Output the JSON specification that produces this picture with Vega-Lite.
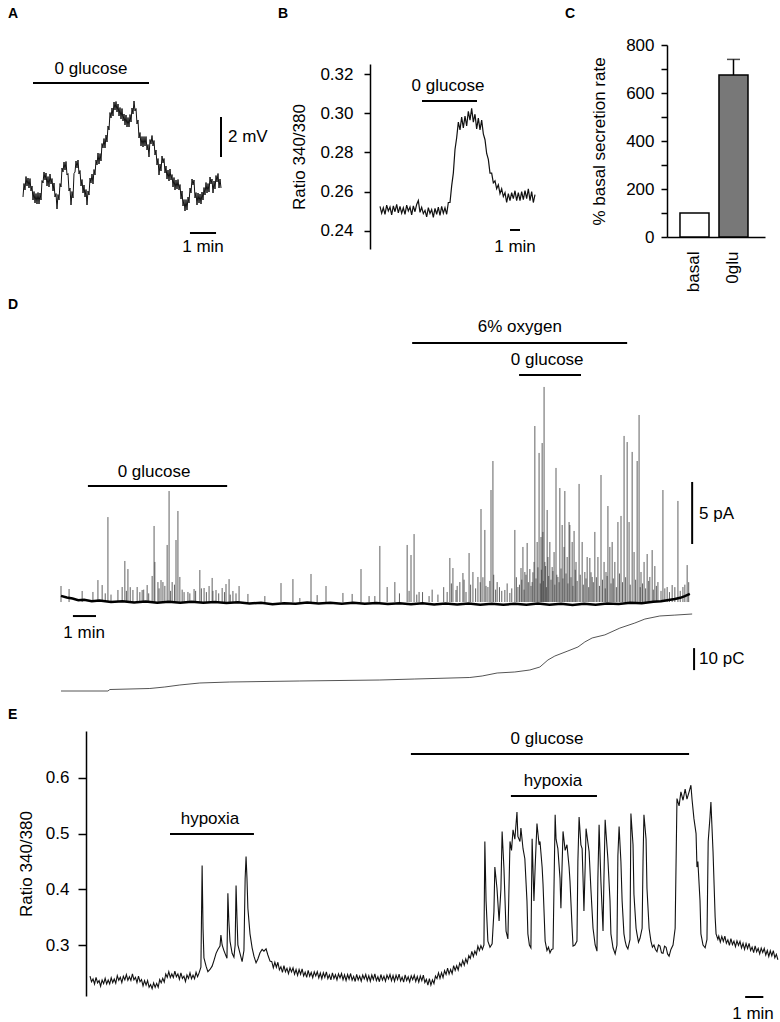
{
"$schema": "https://vega.github.io/schema/vega-lite/v6.json",
"background": "white",
"padding": {"left": 8, "top": 6, "right": 0, "bottom": 0},
"config": {
  "font": "Liberation Sans",
  "view": {"stroke": null},
  "axis": {"labelFont": "Liberation Sans", "titleFont": "Liberation Sans", "labelFontSize": 17, "titleFontSize": 17, "titleFontWeight": "normal", "labelColor": "#000", "titleColor": "#000", "domainColor": "#000", "tickColor": "#000", "domainWidth": 1.5, "tickWidth": 1.5, "grid": false, "labelFlush": false, "labelOverlap": false},
  "title": {"font": "Liberation Sans", "fontSize": 14, "fontWeight": "bold", "anchor": "start", "frame": "group", "baseline": "alphabetic", "color": "#000"},
  "text": {"font": "Liberation Sans", "fontSize": 17, "color": "#000"}
},
"datasets": {
  "aTrace": [{"t":0,"v":-59.9},{"t":2.3,"v":-59.225},{"t":4.6,"v":-59.55},{"t":6.9,"v":-58.875},{"t":9.2,"v":-59.35},{"t":11.5,"v":-58.95},{"t":13.8,"v":-59.45},{"t":16.1,"v":-58.975},{"t":18.4,"v":-59.6},{"t":20.7,"v":-59.35},{"t":23,"v":-60.05},{"t":25.3,"v":-59.625},{"t":27.6,"v":-60.2},{"t":29.9,"v":-59.725},{"t":32.2,"v":-60.25},{"t":34.5,"v":-59.675},{"t":36.8,"v":-60.25},{"t":39.1,"v":-59.7},{"t":41.4,"v":-60.05},{"t":43.7,"v":-59.075},{"t":46,"v":-59.2},{"t":48.3,"v":-58.65},{"t":50.6,"v":-59.05},{"t":52.9,"v":-58.7},{"t":55.2,"v":-59.35},{"t":57.5,"v":-58.875},{"t":59.8,"v":-59.4},{"t":62.1,"v":-58.75},{"t":64.4,"v":-59.25},{"t":66.7,"v":-58.975},{"t":69,"v":-59.6},{"t":71.3,"v":-59.2},{"t":73.6,"v":-59.9},{"t":75.9,"v":-59.725},{"t":78.2,"v":-60.5},{"t":80.5,"v":-59.775},{"t":82.8,"v":-60.05},{"t":85.1,"v":-59.225},{"t":87.4,"v":-59.4},{"t":89.7,"v":-58.45},{"t":92,"v":-58.65},{"t":94.3,"v":-58.15},{"t":96.6,"v":-58.55},{"t":98.9,"v":-58.125},{"t":101.2,"v":-58.8},{"t":103.5,"v":-58.725},{"t":105.8,"v":-59.6},{"t":108.1,"v":-59.45},{"t":110.4,"v":-60.3},{"t":112.7,"v":-59.625},{"t":115,"v":-59.95},{"t":117.3,"v":-58.725},{"t":119.6,"v":-58.65},{"t":121.9,"v":-58.1},{"t":124.2,"v":-58.45},{"t":126.5,"v":-58.05},{"t":128.8,"v":-58.75},{"t":131.1,"v":-58.575},{"t":133.4,"v":-59.35},{"t":135.7,"v":-59.025},{"t":138,"v":-59.7},{"t":140.3,"v":-59.3},{"t":142.6,"v":-59.9},{"t":144.9,"v":-59.525},{"t":147.2,"v":-60.3},{"t":149.5,"v":-59.6},{"t":151.8,"v":-59.8},{"t":154.1,"v":-58.95},{"t":156.4,"v":-59.2},{"t":158.7,"v":-58.75},{"t":161,"v":-59.25},{"t":163.3,"v":-58.525},{"t":165.6,"v":-58.8},{"t":167.9,"v":-58.05},{"t":170.2,"v":-58.3},{"t":172.5,"v":-57.7},{"t":174.8,"v":-58.25},{"t":177.1,"v":-57.725},{"t":179.4,"v":-58.1},{"t":181.7,"v":-57.225},{"t":184,"v":-57.45},{"t":186.3,"v":-56.975},{"t":188.6,"v":-57.45},{"t":190.9,"v":-56.8},{"t":193.2,"v":-57.15},{"t":195.5,"v":-56.35},{"t":197.8,"v":-56.55},{"t":200.1,"v":-55.675},{"t":202.4,"v":-55.95},{"t":204.7,"v":-55.45},{"t":207,"v":-55.85},{"t":209.3,"v":-55.15},{"t":211.6,"v":-55.55},{"t":213.9,"v":-55.125},{"t":216.2,"v":-55.65},{"t":218.5,"v":-55.25},{"t":220.8,"v":-55.85},{"t":223.1,"v":-55.425},{"t":225.4,"v":-56.0},{"t":227.7,"v":-55.475},{"t":230,"v":-56.1},{"t":232.3,"v":-55.75},{"t":234.6,"v":-56.3},{"t":236.9,"v":-55.8},{"t":239.2,"v":-56.4},{"t":241.5,"v":-55.925},{"t":243.8,"v":-56.4},{"t":246.1,"v":-55.775},{"t":248.4,"v":-56.15},{"t":250.7,"v":-55.45},{"t":253,"v":-55.75},{"t":255.3,"v":-55.1},{"t":257.6,"v":-55.6},{"t":259.9,"v":-55.475},{"t":262.2,"v":-56.25},{"t":264.5,"v":-56.05},{"t":266.8,"v":-56.95},{"t":269.1,"v":-56.675},{"t":271.4,"v":-57.35},{"t":273.7,"v":-56.875},{"t":276,"v":-57.4},{"t":278.3,"v":-56.875},{"t":280.6,"v":-57.35},{"t":282.9,"v":-56.875},{"t":285.2,"v":-57.55},{"t":287.5,"v":-57.275},{"t":289.8,"v":-57.9},{"t":292.1,"v":-57.025},{"t":294.4,"v":-57.25},{"t":296.7,"v":-56.825},{"t":299,"v":-57.35},{"t":301.3,"v":-57.075},{"t":303.6,"v":-57.8},{"t":305.9,"v":-57.55},{"t":308.2,"v":-58.3},{"t":310.5,"v":-57.975},{"t":312.8,"v":-58.8},{"t":315.1,"v":-58.25},{"t":317.4,"v":-58.6},{"t":319.7,"v":-57.85},{"t":322,"v":-58.2},{"t":324.3,"v":-57.975},{"t":326.6,"v":-58.7},{"t":328.9,"v":-58.35},{"t":331.2,"v":-59.0},{"t":333.5,"v":-58.55},{"t":335.8,"v":-59.1},{"t":338.1,"v":-58.5},{"t":340.4,"v":-59.05},{"t":342.7,"v":-58.775},{"t":345,"v":-59.4},{"t":347.3,"v":-58.925},{"t":349.6,"v":-59.55},{"t":351.9,"v":-59.05},{"t":354.2,"v":-59.5},{"t":356.5,"v":-59.025},{"t":358.8,"v":-59.55},{"t":361.1,"v":-59.275},{"t":363.4,"v":-60.0},{"t":365.7,"v":-59.6},{"t":368,"v":-60.35},{"t":370.3,"v":-60.025},{"t":372.6,"v":-60.6},{"t":374.9,"v":-60.025},{"t":377.2,"v":-60.55},{"t":379.5,"v":-59.9},{"t":381.8,"v":-60.2},{"t":384.1,"v":-59.45},{"t":386.4,"v":-59.7},{"t":388.7,"v":-59.0},{"t":391,"v":-59.3},{"t":393.3,"v":-59.05},{"t":395.6,"v":-59.95},{"t":397.9,"v":-59.675},{"t":400.2,"v":-60.3},{"t":402.5,"v":-59.7},{"t":404.8,"v":-60.2},{"t":407.1,"v":-59.75},{"t":409.4,"v":-60.25},{"t":411.7,"v":-59.65},{"t":414,"v":-60.05},{"t":416.3,"v":-59.425},{"t":418.6,"v":-59.8},{"t":420.9,"v":-59.175},{"t":423.2,"v":-59.7},{"t":425.5,"v":-59.225},{"t":427.8,"v":-59.65},{"t":430.1,"v":-58.9},{"t":432.4,"v":-59.25},{"t":434.7,"v":-59.0},{"t":437,"v":-59.7},{"t":439.3,"v":-59.1},{"t":441.6,"v":-59.5},{"t":443.9,"v":-58.825},{"t":446.2,"v":-59.15},{"t":448.5,"v":-58.725},{"t":450.8,"v":-59.45},{"t":453.1,"v":-59.0},{"t":455.4,"v":-59.45}],
  "aRules": [{"t":23,"t2":289.8,"v":-54.2,"v2":-54.2},{"t":455.4,"t2":455.4,"v":-55.9,"v2":-57.9},{"t":384,"t2":444,"v":-61.7,"v2":-61.7}],
  "aLabels": [{"t":156.4,"v":-53.5,"label":"0 glucose"},{"t":414,"v":-62.4,"label":"1 min"}],
  "aScaleLabels": [{"t":471.5,"v":-56.9,"label":"2 mV"}],
  "bTrace": [{"t":60,"v":0.2525},{"t":70,"v":0.249},{"t":80,"v":0.2518},{"t":90,"v":0.2485},{"t":100,"v":0.2532},{"t":110,"v":0.2502},{"t":120,"v":0.2522},{"t":130,"v":0.2482},{"t":140,"v":0.2528},{"t":150,"v":0.2498},{"t":160,"v":0.2535},{"t":170,"v":0.2492},{"t":180,"v":0.2525},{"t":190,"v":0.249},{"t":200,"v":0.2518},{"t":210,"v":0.2485},{"t":220,"v":0.2532},{"t":230,"v":0.2502},{"t":240,"v":0.2522},{"t":250,"v":0.2482},{"t":260,"v":0.2528},{"t":270,"v":0.2498},{"t":280,"v":0.2535},{"t":290,"v":0.2555},{"t":300,"v":0.2495},{"t":310,"v":0.252},{"t":320,"v":0.2488},{"t":330,"v":0.2505},{"t":340,"v":0.2472},{"t":350,"v":0.2519},{"t":360,"v":0.2489},{"t":370,"v":0.2509},{"t":380,"v":0.2469},{"t":390,"v":0.2515},{"t":400,"v":0.2485},{"t":410,"v":0.2522},{"t":420,"v":0.2479},{"t":430,"v":0.2525},{"t":440,"v":0.249},{"t":450,"v":0.2518},{"t":460,"v":0.2485},{"t":470,"v":0.2545},{"t":480,"v":0.2545},{"t":490,"v":0.263},{"t":500,"v":0.2695},{"t":510,"v":0.2815},{"t":520,"v":0.2875},{"t":530,"v":0.2955},{"t":540,"v":0.2915},{"t":550,"v":0.298},{"t":560,"v":0.2925},{"t":570,"v":0.2985},{"t":580,"v":0.2935},{"t":590,"v":0.301},{"t":600,"v":0.2965},{"t":610,"v":0.3025},{"t":620,"v":0.2955},{"t":630,"v":0.2995},{"t":640,"v":0.292},{"t":650,"v":0.2975},{"t":660,"v":0.2915},{"t":670,"v":0.2965},{"t":680,"v":0.2895},{"t":690,"v":0.2865},{"t":700,"v":0.2795},{"t":710,"v":0.2765},{"t":720,"v":0.2695},{"t":730,"v":0.2695},{"t":740,"v":0.2645},{"t":750,"v":0.2655},{"t":760,"v":0.2615},{"t":770,"v":0.2635},{"t":780,"v":0.259},{"t":790,"v":0.2615},{"t":800,"v":0.2575},{"t":810,"v":0.2595},{"t":820,"v":0.2545},{"t":830,"v":0.259},{"t":840,"v":0.2555},{"t":850,"v":0.2595},{"t":860,"v":0.2565},{"t":870,"v":0.2605},{"t":880,"v":0.2555},{"t":890,"v":0.2595},{"t":900,"v":0.2555},{"t":910,"v":0.26},{"t":920,"v":0.256},{"t":930,"v":0.2605},{"t":940,"v":0.2565},{"t":950,"v":0.2615},{"t":960,"v":0.2555},{"t":970,"v":0.26},{"t":980,"v":0.2545},{"t":990,"v":0.2585}],
  "bRules": [{"t":312,"t2":642,"v":0.3062,"v2":0.3062},{"t":840,"t2":900,"v":0.2405,"v2":0.2405}],
  "bLabels": [{"t":468,"v":0.3139,"label":"0 glucose"},{"t":870,"v":0.2318,"label":"1 min"}],
  "cBars": [{"cond":"basal","val":100},{"cond":"0glu","val":675}],
  "cErr": [{"cond":"0glu","val":675,"hi":740}],
  "cCap": [{"cond":"0glu","val":740}],
  "dSpikes": [{"t":0,"v":1.29},{"t":21,"v":1.05},{"t":55,"v":0.89},{"t":83,"v":0.81},{"t":96,"v":1.77},{"t":107,"v":1.37},{"t":115,"v":0.7},{"t":122,"v":6.85},{"t":130,"v":0.6},{"t":148,"v":0.97},{"t":159,"v":1.21},{"t":166,"v":3.31},{"t":170,"v":0.9},{"t":174,"v":2.66},{"t":180,"v":1.2},{"t":187,"v":0.97},{"t":198,"v":1.21},{"t":205,"v":0.8},{"t":211,"v":0.97},{"t":215,"v":1.0},{"t":224,"v":1.37},{"t":228,"v":0.7},{"t":237,"v":2.1},{"t":242,"v":6.13},{"t":244,"v":3.23},{"t":252,"v":1.61},{"t":255,"v":1.1},{"t":260,"v":1.77},{"t":265,"v":1.61},{"t":270,"v":1.3},{"t":276,"v":4.6},{"t":281,"v":8.95},{"t":285,"v":0.9},{"t":289,"v":1.61},{"t":295,"v":1.4},{"t":299,"v":5.0},{"t":304,"v":7.34},{"t":309,"v":2.02},{"t":315,"v":1.0},{"t":320,"v":0.8},{"t":330,"v":0.81},{"t":335,"v":0.7},{"t":346,"v":1.05},{"t":350,"v":0.9},{"t":361,"v":2.58},{"t":365,"v":1.1},{"t":372,"v":1.13},{"t":378,"v":0.8},{"t":385,"v":1.29},{"t":393,"v":1.94},{"t":395,"v":0.9},{"t":403,"v":0.97},{"t":410,"v":0.7},{"t":419,"v":1.13},{"t":425,"v":0.8},{"t":429,"v":1.45},{"t":437,"v":1.85},{"t":440,"v":0.6},{"t":447,"v":0.89},{"t":455,"v":0.7},{"t":463,"v":1.29},{"t":486,"v":0.65},{"t":530,"v":0.48},{"t":572,"v":1.53},{"t":603,"v":1.85},{"t":621,"v":0.32},{"t":650,"v":2.26},{"t":666,"v":0.56},{"t":689,"v":1.29},{"t":733,"v":0.73},{"t":757,"v":0.65},{"t":780,"v":2.66},{"t":801,"v":0.48},{"t":816,"v":0.48},{"t":829,"v":4.52},{"t":848,"v":1.21},{"t":868,"v":1.61},{"t":880,"v":0.7},{"t":900,"v":4.6},{"t":905,"v":0.9},{"t":910,"v":3.79},{"t":918,"v":5.48},{"t":925,"v":0.6},{"t":931,"v":0.81},{"t":940,"v":0.8},{"t":957,"v":0.48},{"t":965,"v":1.0},{"t":980,"v":0.6},{"t":995,"v":1.2},{"t":1004,"v":0.81},{"t":1011,"v":3.55},{"t":1015,"v":1.5},{"t":1019,"v":2.74},{"t":1027,"v":0.97},{"t":1030,"v":1.3},{"t":1037,"v":1.61},{"t":1045,"v":2.34},{"t":1048,"v":1.8},{"t":1053,"v":0.81},{"t":1061,"v":3.95},{"t":1065,"v":1.4},{"t":1071,"v":2.42},{"t":1078,"v":1.1},{"t":1084,"v":2.02},{"t":1090,"v":1.6},{"t":1092,"v":7.5},{"t":1097,"v":2.0},{"t":1102,"v":5.81},{"t":1105,"v":1.3},{"t":1110,"v":1.21},{"t":1115,"v":1.7},{"t":1118,"v":9.03},{"t":1123,"v":11.37},{"t":1125,"v":2.2},{"t":1130,"v":1.0},{"t":1134,"v":1.61},{"t":1140,"v":1.2},{"t":1146,"v":0.9},{"t":1154,"v":0.97},{"t":1160,"v":1.5},{"t":1167,"v":0.73},{"t":1172,"v":1.1},{"t":1180,"v":5.81},{"t":1184,"v":2.0},{"t":1188,"v":1.21},{"t":1192,"v":1.4},{"t":1196,"v":2.74},{"t":1198,"v":1.8},{"t":1201,"v":4.44},{"t":1204,"v":1.0},{"t":1206,"v":2.42},{"t":1209,"v":2.2},{"t":1212,"v":4.76},{"t":1215,"v":1.6},{"t":1219,"v":2.66},{"t":1222,"v":1.3},{"t":1225,"v":1.61},{"t":1227,"v":2.4},{"t":1230,"v":3.23},{"t":1232,"v":14.19},{"t":1235,"v":1.9},{"t":1238,"v":4.84},{"t":1240,"v":2.8},{"t":1243,"v":12.02},{"t":1246,"v":1.5},{"t":1248,"v":5.24},{"t":1249,"v":2.6},{"t":1251,"v":12.82},{"t":1253,"v":5.65},{"t":1254,"v":1.7},{"t":1256,"v":17.34},{"t":1258,"v":3.23},{"t":1260,"v":2.9},{"t":1262,"v":1.2},{"t":1264,"v":7.42},{"t":1266,"v":3.63},{"t":1268,"v":2.1},{"t":1271,"v":4.84},{"t":1274,"v":1.8},{"t":1277,"v":2.82},{"t":1279,"v":2.5},{"t":1282,"v":4.03},{"t":1284,"v":1.4},{"t":1287,"v":10.81},{"t":1289,"v":2.2},{"t":1292,"v":2.02},{"t":1295,"v":1.6},{"t":1297,"v":9.19},{"t":1300,"v":2.7},{"t":1303,"v":6.21},{"t":1305,"v":1.9},{"t":1308,"v":4.44},{"t":1310,"v":8.95},{"t":1313,"v":2.3},{"t":1316,"v":3.63},{"t":1318,"v":1.5},{"t":1321,"v":6.45},{"t":1323,"v":6.21},{"t":1326,"v":2.0},{"t":1329,"v":4.84},{"t":1331,"v":1.3},{"t":1334,"v":5.73},{"t":1337,"v":2.6},{"t":1339,"v":3.23},{"t":1342,"v":1.7},{"t":1347,"v":9.52},{"t":1350,"v":2.2},{"t":1355,"v":4.84},{"t":1358,"v":1.4},{"t":1362,"v":2.42},{"t":1365,"v":1.9},{"t":1368,"v":3.63},{"t":1372,"v":1.2},{"t":1375,"v":3.55},{"t":1378,"v":2.4},{"t":1381,"v":2.02},{"t":1384,"v":1.6},{"t":1388,"v":5.65},{"t":1392,"v":2.0},{"t":1396,"v":3.63},{"t":1400,"v":1.3},{"t":1404,"v":10.24},{"t":1408,"v":1.8},{"t":1412,"v":3.23},{"t":1415,"v":1.1},{"t":1417,"v":2.42},{"t":1420,"v":2.1},{"t":1422,"v":7.74},{"t":1427,"v":4.44},{"t":1430,"v":1.5},{"t":1433,"v":4.84},{"t":1436,"v":1.9},{"t":1440,"v":3.23},{"t":1444,"v":1.2},{"t":1448,"v":6.45},{"t":1452,"v":2.3},{"t":1456,"v":6.94},{"t":1460,"v":1.6},{"t":1464,"v":13.39},{"t":1468,"v":2.0},{"t":1472,"v":12.9},{"t":1477,"v":6.45},{"t":1480,"v":1.4},{"t":1485,"v":12.1},{"t":1490,"v":4.03},{"t":1494,"v":1.8},{"t":1498,"v":11.37},{"t":1503,"v":15.08},{"t":1506,"v":1.2},{"t":1508,"v":2.42},{"t":1512,"v":1.5},{"t":1516,"v":3.23},{"t":1520,"v":1.1},{"t":1524,"v":3.87},{"t":1528,"v":1.7},{"t":1531,"v":2.02},{"t":1537,"v":4.19},{"t":1540,"v":1.0},{"t":1544,"v":2.9},{"t":1548,"v":1.3},{"t":1552,"v":1.61},{"t":1560,"v":0.9},{"t":1565,"v":9.03},{"t":1570,"v":1.1},{"t":1576,"v":1.21},{"t":1582,"v":0.8},{"t":1589,"v":1.37},{"t":1596,"v":1.2},{"t":1604,"v":8.15},{"t":1610,"v":0.9},{"t":1617,"v":1.21},{"t":1622,"v":1.4},{"t":1628,"v":2.98},{"t":1632,"v":1.6}],
  "dBase": [{"t":0,"v":0.5},{"t":15,"v":0.36},{"t":30,"v":0.28},{"t":45,"v":0.14},{"t":60,"v":0.18},{"t":80,"v":0.06},{"t":100,"v":0.12},{"t":130,"v":0.0},{"t":160,"v":0.06},{"t":190,"v":-0.04},{"t":220,"v":0.04},{"t":250,"v":-0.06},{"t":280,"v":0.02},{"t":310,"v":-0.05},{"t":340,"v":0.03},{"t":370,"v":-0.06},{"t":400,"v":0.0},{"t":430,"v":-0.08},{"t":460,"v":-0.02},{"t":490,"v":-0.12},{"t":520,"v":-0.06},{"t":550,"v":-0.18},{"t":580,"v":-0.1},{"t":610,"v":-0.14},{"t":640,"v":-0.04},{"t":670,"v":-0.12},{"t":700,"v":-0.05},{"t":730,"v":-0.13},{"t":760,"v":-0.06},{"t":790,"v":-0.14},{"t":820,"v":-0.08},{"t":850,"v":-0.16},{"t":880,"v":-0.1},{"t":910,"v":-0.18},{"t":940,"v":-0.1},{"t":970,"v":-0.2},{"t":1000,"v":-0.12},{"t":1030,"v":-0.2},{"t":1060,"v":-0.12},{"t":1090,"v":-0.21},{"t":1120,"v":-0.13},{"t":1150,"v":-0.22},{"t":1180,"v":-0.14},{"t":1210,"v":-0.22},{"t":1240,"v":-0.12},{"t":1270,"v":-0.22},{"t":1300,"v":-0.14},{"t":1330,"v":-0.23},{"t":1360,"v":-0.13},{"t":1390,"v":-0.21},{"t":1420,"v":-0.12},{"t":1450,"v":-0.16},{"t":1480,"v":-0.06},{"t":1510,"v":-0.1},{"t":1540,"v":0.02},{"t":1560,"v":0.06},{"t":1580,"v":0.16},{"t":1596,"v":0.24},{"t":1610,"v":0.34},{"t":1622,"v":0.48},{"t":1635,"v":0.66}],
  "dRules": [{"t":70,"t2":432,"v":9.35,"v2":9.35},{"t":913,"t2":1472,"v":20.89,"v2":20.89},{"t":1191,"t2":1352,"v":18.31,"v2":18.31},{"t":31,"t2":91,"v":-1.13,"v2":-1.13},{"t":1641,"t2":1641,"v":9.68,"v2":4.68}],
  "dLabels": [{"t":242,"v":10.48,"label":"0 glucose"},{"t":1193,"v":22.18,"label":"6% oxygen"},{"t":1264,"v":19.52,"label":"0 glucose"},{"t":60,"v":-2.5,"label":"1 min"}],
  "dScaleLabels": [{"t":1659,"v":7.1,"label":"5 pA"}],
  "dCharge": [{"t":0,"v":0},{"t":122,"v":0},{"t":127,"v":0.68},{"t":231,"v":1.14},{"t":270,"v":1.82},{"t":309,"v":2.73},{"t":361,"v":3.64},{"t":439,"v":4.09},{"t":621,"v":4.55},{"t":829,"v":5.0},{"t":920,"v":5.45},{"t":1063,"v":6.14},{"t":1095,"v":6.82},{"t":1134,"v":8.18},{"t":1180,"v":8.64},{"t":1219,"v":9.55},{"t":1245,"v":10.9},{"t":1266,"v":14.1},{"t":1284,"v":15.9},{"t":1318,"v":18.2},{"t":1344,"v":20.0},{"t":1362,"v":22.3},{"t":1381,"v":24.1},{"t":1414,"v":25.5},{"t":1453,"v":28.6},{"t":1492,"v":30.9},{"t":1518,"v":32.7},{"t":1557,"v":34.1},{"t":1596,"v":34.5},{"t":1641,"v":35.0}],
  "dChargeRules": [{"t":1646,"t2":1646,"v":9.5,"v2":19.5}],
  "dChargeLabels": [{"t":1659,"v":14.5,"label":"10 pC"}],
  "eTrace": [{"t":0,"v":0.244},{"t":5,"v":0.234},{"t":10,"v":0.239},{"t":15,"v":0.23},{"t":20,"v":0.242},{"t":25,"v":0.232},{"t":30,"v":0.236},{"t":35,"v":0.226},{"t":40,"v":0.237},{"t":45,"v":0.2305},{"t":50,"v":0.24},{"t":55,"v":0.23},{"t":60,"v":0.237},{"t":65,"v":0.23},{"t":70,"v":0.241},{"t":75,"v":0.2325},{"t":80,"v":0.239},{"t":85,"v":0.2315},{"t":90,"v":0.245},{"t":95,"v":0.2365},{"t":100,"v":0.242},{"t":105,"v":0.2325},{"t":110,"v":0.244},{"t":115,"v":0.2375},{"t":120,"v":0.247},{"t":125,"v":0.2365},{"t":130,"v":0.243},{"t":135,"v":0.2365},{"t":140,"v":0.248},{"t":145,"v":0.2375},{"t":150,"v":0.242},{"t":155,"v":0.2325},{"t":160,"v":0.244},{"t":165,"v":0.234},{"t":170,"v":0.238},{"t":175,"v":0.2265},{"t":180,"v":0.236},{"t":185,"v":0.228},{"t":190,"v":0.236},{"t":195,"v":0.224},{"t":200,"v":0.229},{"t":205,"v":0.2215},{"t":210,"v":0.232},{"t":215,"v":0.224},{"t":220,"v":0.231},{"t":225,"v":0.224},{"t":230,"v":0.238},{"t":235,"v":0.232},{"t":240,"v":0.24},{"t":245,"v":0.2335},{"t":250,"v":0.248},{"t":255,"v":0.242},{"t":260,"v":0.252},{"t":265,"v":0.2415},{"t":270,"v":0.248},{"t":275,"v":0.2415},{"t":280,"v":0.253},{"t":285,"v":0.243},{"t":290,"v":0.248},{"t":295,"v":0.2385},{"t":300,"v":0.25},{"t":305,"v":0.24},{"t":310,"v":0.244},{"t":315,"v":0.2345},{"t":320,"v":0.246},{"t":325,"v":0.24},{"t":330,"v":0.25},{"t":335,"v":0.2395},{"t":340,"v":0.246},{"t":345,"v":0.2395},{"t":350,"v":0.251},{"t":355,"v":0.243},{"t":360,"v":0.25},{"t":366,"v":0.26},{"t":370,"v":0.443},{"t":373,"v":0.33},{"t":376,"v":0.277},{"t":383,"v":0.262},{"t":389,"v":0.252},{"t":396,"v":0.256},{"t":403,"v":0.262},{"t":409,"v":0.272},{"t":416,"v":0.285},{"t":422,"v":0.292},{"t":429,"v":0.298},{"t":432,"v":0.318},{"t":436,"v":0.3},{"t":442,"v":0.29},{"t":449,"v":0.28},{"t":452,"v":0.276},{"t":455,"v":0.393},{"t":458,"v":0.345},{"t":462,"v":0.307},{"t":469,"v":0.285},{"t":475,"v":0.278},{"t":479,"v":0.3},{"t":482,"v":0.407},{"t":485,"v":0.35},{"t":488,"v":0.3},{"t":495,"v":0.285},{"t":502,"v":0.27},{"t":508,"v":0.29},{"t":512,"v":0.42},{"t":515,"v":0.459},{"t":518,"v":0.42},{"t":521,"v":0.366},{"t":528,"v":0.32},{"t":535,"v":0.295},{"t":541,"v":0.28},{"t":548,"v":0.268},{"t":554,"v":0.275},{"t":561,"v":0.286},{"t":568,"v":0.292},{"t":574,"v":0.289},{"t":581,"v":0.293},{"t":587,"v":0.282},{"t":594,"v":0.271},{"t":600,"v":0.27},{"t":605,"v":0.259},{"t":610,"v":0.269},{"t":615,"v":0.26},{"t":620,"v":0.269},{"t":625,"v":0.2555},{"t":630,"v":0.261},{"t":635,"v":0.251},{"t":640,"v":0.263},{"t":645,"v":0.252},{"t":650,"v":0.258},{"t":655,"v":0.2485},{"t":660,"v":0.259},{"t":665,"v":0.2515},{"t":670,"v":0.259},{"t":675,"v":0.2475},{"t":680,"v":0.256},{"t":685,"v":0.2455},{"t":690,"v":0.256},{"t":695,"v":0.2475},{"t":700,"v":0.257},{"t":705,"v":0.2446},{"t":710,"v":0.2512},{"t":715,"v":0.2418},{"t":720,"v":0.2544},{"t":725,"v":0.244},{"t":730,"v":0.2506},{"t":735,"v":0.2412},{"t":740,"v":0.2518},{"t":745,"v":0.2444},{"t":750,"v":0.252},{"t":755,"v":0.2408},{"t":760,"v":0.2496},{"t":765,"v":0.2394},{"t":770,"v":0.2502},{"t":775,"v":0.242},{"t":780,"v":0.2518},{"t":785,"v":0.2396},{"t":790,"v":0.2464},{"t":795,"v":0.2372},{"t":800,"v":0.25},{"t":805,"v":0.2398},{"t":810,"v":0.2466},{"t":815,"v":0.2374},{"t":820,"v":0.2482},{"t":825,"v":0.241},{"t":830,"v":0.2488},{"t":835,"v":0.2376},{"t":840,"v":0.2464},{"t":845,"v":0.2362},{"t":850,"v":0.247},{"t":855,"v":0.2389},{"t":860,"v":0.2488},{"t":865,"v":0.2367},{"t":870,"v":0.2436},{"t":875,"v":0.2345},{"t":880,"v":0.2474},{"t":885,"v":0.2373},{"t":890,"v":0.2442},{"t":895,"v":0.2351},{"t":900,"v":0.246},{"t":905,"v":0.239},{"t":910,"v":0.247},{"t":915,"v":0.236},{"t":920,"v":0.245},{"t":925,"v":0.235},{"t":930,"v":0.246},{"t":935,"v":0.238},{"t":940,"v":0.248},{"t":945,"v":0.236},{"t":950,"v":0.243},{"t":955,"v":0.234},{"t":960,"v":0.247},{"t":965,"v":0.237},{"t":970,"v":0.244},{"t":975,"v":0.235},{"t":980,"v":0.246},{"t":985,"v":0.239},{"t":990,"v":0.247},{"t":995,"v":0.236},{"t":1000,"v":0.245},{"t":1005,"v":0.2349},{"t":1010,"v":0.2458},{"t":1015,"v":0.2377},{"t":1020,"v":0.2476},{"t":1025,"v":0.2355},{"t":1030,"v":0.2424},{"t":1035,"v":0.2333},{"t":1040,"v":0.2462},{"t":1045,"v":0.2361},{"t":1050,"v":0.243},{"t":1055,"v":0.2339},{"t":1060,"v":0.2448},{"t":1065,"v":0.2377},{"t":1070,"v":0.2456},{"t":1075,"v":0.2345},{"t":1080,"v":0.2434},{"t":1085,"v":0.2333},{"t":1090,"v":0.2442},{"t":1095,"v":0.2361},{"t":1100,"v":0.246},{"t":1105,"v":0.2326},{"t":1110,"v":0.2382},{"t":1115,"v":0.2278},{"t":1120,"v":0.2394},{"t":1125,"v":0.228},{"t":1130,"v":0.2374},{"t":1135,"v":0.2308},{"t":1140,"v":0.2442},{"t":1145,"v":0.2396},{"t":1150,"v":0.25},{"t":1155,"v":0.2402},{"t":1160,"v":0.2504},{"t":1165,"v":0.2416},{"t":1170,"v":0.2538},{"t":1175,"v":0.247},{"t":1180,"v":0.2584},{"t":1185,"v":0.2478},{"t":1190,"v":0.2562},{"t":1195,"v":0.2486},{"t":1200,"v":0.263},{"t":1205,"v":0.2544},{"t":1210,"v":0.2628},{"t":1215,"v":0.2552},{"t":1220,"v":0.2676},{"t":1225,"v":0.262},{"t":1230,"v":0.2724},{"t":1235,"v":0.2638},{"t":1240,"v":0.2752},{"t":1245,"v":0.2676},{"t":1250,"v":0.281},{"t":1255,"v":0.2758},{"t":1260,"v":0.2886},{"t":1265,"v":0.2794},{"t":1270,"v":0.2892},{"t":1275,"v":0.283},{"t":1280,"v":0.298},{"t":1285,"v":0.29},{"t":1290,"v":0.299},{"t":1295,"v":0.292},{"t":1300,"v":0.3},{"t":1303,"v":0.486},{"t":1307,"v":0.379},{"t":1313,"v":0.307},{"t":1320,"v":0.296},{"t":1327,"v":0.302},{"t":1333,"v":0.36},{"t":1336,"v":0.44},{"t":1343,"v":0.402},{"t":1350,"v":0.343},{"t":1356,"v":0.4},{"t":1360,"v":0.504},{"t":1366,"v":0.438},{"t":1373,"v":0.325},{"t":1379,"v":0.311},{"t":1386,"v":0.486},{"t":1391,"v":0.47},{"t":1396,"v":0.507},{"t":1402,"v":0.49},{"t":1409,"v":0.539},{"t":1412,"v":0.495},{"t":1419,"v":0.486},{"t":1422,"v":0.51},{"t":1429,"v":0.473},{"t":1435,"v":0.455},{"t":1442,"v":0.379},{"t":1445,"v":0.32},{"t":1450,"v":0.3},{"t":1455,"v":0.295},{"t":1459,"v":0.491},{"t":1465,"v":0.379},{"t":1469,"v":0.44},{"t":1475,"v":0.518},{"t":1482,"v":0.48},{"t":1485,"v":0.486},{"t":1492,"v":0.44},{"t":1495,"v":0.409},{"t":1502,"v":0.307},{"t":1508,"v":0.29},{"t":1513,"v":0.296},{"t":1518,"v":0.286},{"t":1523,"v":0.292},{"t":1528,"v":0.293},{"t":1535,"v":0.534},{"t":1538,"v":0.49},{"t":1544,"v":0.473},{"t":1551,"v":0.42},{"t":1554,"v":0.366},{"t":1561,"v":0.504},{"t":1568,"v":0.47},{"t":1574,"v":0.48},{"t":1581,"v":0.44},{"t":1584,"v":0.414},{"t":1591,"v":0.33},{"t":1594,"v":0.298},{"t":1600,"v":0.3},{"t":1607,"v":0.307},{"t":1610,"v":0.45},{"t":1614,"v":0.53},{"t":1620,"v":0.48},{"t":1624,"v":0.473},{"t":1627,"v":0.42},{"t":1630,"v":0.361},{"t":1634,"v":0.44},{"t":1637,"v":0.509},{"t":1644,"v":0.48},{"t":1647,"v":0.468},{"t":1653,"v":0.4},{"t":1660,"v":0.33},{"t":1667,"v":0.3},{"t":1673,"v":0.289},{"t":1676,"v":0.42},{"t":1680,"v":0.516},{"t":1686,"v":0.414},{"t":1693,"v":0.325},{"t":1696,"v":0.42},{"t":1700,"v":0.525},{"t":1703,"v":0.5},{"t":1709,"v":0.455},{"t":1716,"v":0.38},{"t":1719,"v":0.32},{"t":1726,"v":0.295},{"t":1733,"v":0.284},{"t":1739,"v":0.3},{"t":1742,"v":0.46},{"t":1746,"v":0.513},{"t":1752,"v":0.45},{"t":1756,"v":0.379},{"t":1762,"v":0.32},{"t":1766,"v":0.307},{"t":1770,"v":0.298},{"t":1775,"v":0.293},{"t":1782,"v":0.31},{"t":1785,"v":0.536},{"t":1792,"v":0.48},{"t":1795,"v":0.391},{"t":1802,"v":0.33},{"t":1805,"v":0.32},{"t":1810,"v":0.305},{"t":1815,"v":0.312},{"t":1822,"v":0.33},{"t":1825,"v":0.45},{"t":1828,"v":0.534},{"t":1835,"v":0.49},{"t":1838,"v":0.402},{"t":1845,"v":0.33},{"t":1851,"v":0.307},{"t":1856,"v":0.296},{"t":1861,"v":0.3},{"t":1866,"v":0.292},{"t":1871,"v":0.288},{"t":1876,"v":0.3},{"t":1881,"v":0.298},{"t":1886,"v":0.286},{"t":1891,"v":0.285},{"t":1896,"v":0.298},{"t":1901,"v":0.296},{"t":1906,"v":0.284},{"t":1911,"v":0.28},{"t":1917,"v":0.292},{"t":1924,"v":0.3},{"t":1931,"v":0.33},{"t":1937,"v":0.563},{"t":1944,"v":0.55},{"t":1950,"v":0.575},{"t":1957,"v":0.56},{"t":1964,"v":0.58},{"t":1970,"v":0.562},{"t":1977,"v":0.575},{"t":1983,"v":0.587},{"t":1987,"v":0.56},{"t":1993,"v":0.527},{"t":2000,"v":0.5},{"t":2003,"v":0.44},{"t":2006,"v":0.45},{"t":2013,"v":0.38},{"t":2016,"v":0.32},{"t":2023,"v":0.3},{"t":2030,"v":0.295},{"t":2036,"v":0.31},{"t":2040,"v":0.486},{"t":2046,"v":0.53},{"t":2049,"v":0.557},{"t":2056,"v":0.468},{"t":2063,"v":0.35},{"t":2066,"v":0.32},{"t":2072,"v":0.31},{"t":2075,"v":0.316},{"t":2080,"v":0.3052},{"t":2085,"v":0.3154},{"t":2090,"v":0.3066},{"t":2095,"v":0.3158},{"t":2100,"v":0.303},{"t":2105,"v":0.3092},{"t":2110,"v":0.2994},{"t":2115,"v":0.3115},{"t":2120,"v":0.3007},{"t":2125,"v":0.3069},{"t":2130,"v":0.2971},{"t":2135,"v":0.3073},{"t":2140,"v":0.2995},{"t":2145,"v":0.3067},{"t":2150,"v":0.2949},{"t":2155,"v":0.3031},{"t":2160,"v":0.2923},{"t":2165,"v":0.3025},{"t":2170,"v":0.2937},{"t":2175,"v":0.3028},{"t":2180,"v":0.29},{"t":2185,"v":0.2962},{"t":2190,"v":0.2864},{"t":2195,"v":0.2986},{"t":2200,"v":0.2878},{"t":2205,"v":0.294},{"t":2210,"v":0.2842},{"t":2215,"v":0.2944},{"t":2220,"v":0.2866},{"t":2225,"v":0.2938},{"t":2230,"v":0.282},{"t":2235,"v":0.2902},{"t":2240,"v":0.2794},{"t":2245,"v":0.2895},{"t":2250,"v":0.2807},{"t":2255,"v":0.2899},{"t":2260,"v":0.2771},{"t":2265,"v":0.2833},{"t":2270,"v":0.2735}],
  "eRules": [{"t":264,"t2":541,"v":0.4994,"v2":0.4994},{"t":1059,"t2":1977,"v":0.6431,"v2":0.6431},{"t":1389,"t2":1673,"v":0.5677,"v2":0.5677},{"t":2162,"t2":2222,"v":0.2066,"v2":0.2066}],
  "eLabels": [{"t":396,"v":0.5263,"label":"hypoxia"},{"t":1508,"v":0.67,"label":"0 glucose"},{"t":1528,"v":0.5946,"label":"hypoxia"},{"t":2188,"v":0.176,"label":"1 min"}]
},
"spacing": 6,
"vconcat": [
  {
    "spacing": 10,
    "hconcat": [
      {
        "width": 248, "height": 209,
        "title": {"text": "A", "dx": -12, "offset": 24},
        "encoding": {
          "x": {"field": "t", "type": "quantitative", "scale": {"domain": [-6.9, 563.5], "nice": false, "zero": false}, "axis": null},
          "y": {"field": "v", "type": "quantitative", "scale": {"domain": [-62.75, -52.3], "nice": false, "zero": false}, "axis": null}
        },
        "layer": [
          {"data": {"name": "aTrace"}, "mark": {"type": "line", "color": "#111", "strokeWidth": 1}},
          {"data": {"name": "aRules"}, "mark": {"type": "rule", "color": "#000", "strokeWidth": 2}, "encoding": {"x2": {"field": "t2"}, "y2": {"field": "v2"}}},
          {"data": {"name": "aLabels"}, "mark": {"type": "text", "align": "center", "baseline": "middle"}, "encoding": {"text": {"field": "label"}}},
          {"data": {"name": "aScaleLabels"}, "mark": {"type": "text", "align": "left", "baseline": "middle"}, "encoding": {"text": {"field": "label"}}}
        ]
      },
      {
        "width": 185, "height": 204,
        "title": {"text": "B", "dx": -92, "offset": 24},
        "encoding": {
          "x": {"field": "t", "type": "quantitative", "scale": {"domain": [0, 1110], "nice": false, "zero": false}, "axis": null},
          "y": {"field": "v", "type": "quantitative", "scale": {"domain": [0.2308, 0.3251], "range": [204, 19], "nice": false, "zero": false},
                "axis": {"values": [0.24, 0.26, 0.28, 0.3, 0.32], "format": ".2f", "title": "Ratio 340/380", "tickSize": 6, "labelPadding": 11, "minExtent": 54, "maxExtent": 54, "titlePadding": 8}}
        },
        "layer": [
          {"data": {"name": "bTrace"}, "mark": {"type": "line", "color": "#111", "strokeWidth": 1.2}},
          {"data": {"name": "bRules"}, "mark": {"type": "rule", "color": "#000", "strokeWidth": 2}, "encoding": {"x2": {"field": "t2"}, "y2": {"field": "v2"}}},
          {"data": {"name": "bLabels"}, "mark": {"type": "text", "align": "center", "baseline": "middle"}, "encoding": {"text": {"field": "label"}}}
        ]
      },
      {
        "width": 98, "height": 192,
        "title": {"text": "C", "dx": -102, "offset": 15.5},
        "encoding": {
          "x": {"field": "cond", "type": "nominal", "sort": ["basal", "0glu"], "scale": {"paddingInner": 0.256, "paddingOuter": 0.3844, "align": 0.433},
                "axis": {"title": null, "labelAngle": 270, "ticks": false, "tickSize": 0, "labelPadding": 14, "domain": true}},
          "y": {"field": "val", "type": "quantitative", "scale": {"domain": [0, 800], "nice": false, "zero": false},
                "axis": {"values": [0, 100, 200, 300, 400, 500, 600, 700, 800], "labelExpr": "datum.value % 200 === 0 ? datum.label : ''", "title": "% basal secretion rate", "tickSize": 6, "labelPadding": 7, "minExtent": 42, "maxExtent": 42, "titlePadding": 17}}
        },
        "layer": [
          {"data": {"name": "cBars"}, "mark": {"type": "bar", "stroke": "#000", "strokeWidth": 1.5},
           "encoding": {"color": {"field": "cond", "type": "nominal", "scale": {"domain": ["basal", "0glu"], "range": ["#ffffff", "#787878"]}, "legend": null}}},
          {"data": {"name": "cErr"}, "mark": {"type": "rule", "color": "#000", "strokeWidth": 1.5}, "encoding": {"y2": {"field": "hi"}}},
          {"data": {"name": "cCap"}, "mark": {"type": "tick", "color": "#000", "thickness": 1.5, "size": 13, "orient": "horizontal"}}
        ]
      }
    ]
  },
  {
    "width": 760, "height": 385,
    "title": {"text": "D", "dx": -12, "offset": 5},
    "layer": [
      {
        "encoding": {
          "x": {"field": "t", "type": "quantitative", "scale": {"domain": [-106.6, 1869.4], "nice": false, "zero": false}, "axis": null},
          "y": {"field": "v", "type": "quantitative", "scale": {"domain": [-8.06, 22.98], "nice": false, "zero": false}, "axis": null}
        },
        "layer": [
          {"data": {"name": "dSpikes"}, "mark": {"type": "rule", "color": "#444", "strokeWidth": 0.85}, "encoding": {"y2": {"datum": 0}}},
          {"data": {"name": "dBase"}, "mark": {"type": "line", "color": "#000", "strokeWidth": 2.5}},
          {"data": {"name": "dRules"}, "mark": {"type": "rule", "color": "#000", "strokeWidth": 2}, "encoding": {"x2": {"field": "t2"}, "y2": {"field": "v2"}}},
          {"data": {"name": "dLabels"}, "mark": {"type": "text", "align": "center", "baseline": "middle"}, "encoding": {"text": {"field": "label"}}},
          {"data": {"name": "dScaleLabels"}, "mark": {"type": "text", "align": "left", "baseline": "middle"}, "encoding": {"text": {"field": "label"}}}
        ]
      },
      {
        "encoding": {
          "x": {"field": "t", "type": "quantitative", "scale": {"domain": [-106.6, 1869.4], "nice": false, "zero": false}, "axis": null},
          "y": {"field": "v", "type": "quantitative", "scale": {"domain": [-5, 170], "nice": false, "zero": false}, "axis": null}
        },
        "layer": [
          {"data": {"name": "dCharge"}, "mark": {"type": "line", "color": "#555", "strokeWidth": 1}},
          {"data": {"name": "dChargeRules"}, "mark": {"type": "rule", "color": "#000", "strokeWidth": 2}, "encoding": {"x2": {"field": "t2"}, "y2": {"field": "v2"}}},
          {"data": {"name": "dChargeLabels"}, "mark": {"type": "text", "align": "left", "baseline": "middle"}, "encoding": {"text": {"field": "label"}}}
        ]
      }
    ],
    "resolve": {"scale": {"y": "independent"}}
  },
  {
    "width": 760, "height": 265,
    "title": {"text": "E", "dx": -12, "offset": 8},
    "encoding": {
      "x": {"field": "t", "type": "quantitative", "scale": {"domain": [-231, 2277], "nice": false, "zero": false}, "axis": null},
      "y": {"field": "v", "type": "quantitative", "scale": {"domain": [0.2084, 0.6844], "nice": false, "zero": false},
            "axis": {"values": [0.3, 0.4, 0.5, 0.6], "format": ".1f", "title": "Ratio 340/380", "offset": -66, "tickSize": 8, "labelPadding": 9, "minExtent": 41, "maxExtent": 41, "titlePadding": 10}}
    },
    "layer": [
      {"data": {"name": "eTrace"}, "mark": {"type": "line", "color": "#111", "strokeWidth": 1.1}},
      {"data": {"name": "eRules"}, "mark": {"type": "rule", "color": "#000", "strokeWidth": 2}, "encoding": {"x2": {"field": "t2"}, "y2": {"field": "v2"}}},
      {"data": {"name": "eLabels"}, "mark": {"type": "text", "align": "center", "baseline": "middle"}, "encoding": {"text": {"field": "label"}}}
    ]
  }
]
}
